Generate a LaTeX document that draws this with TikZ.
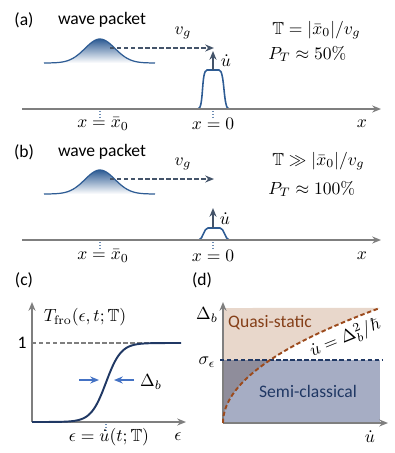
\documentclass[tikz,border=0pt]{standalone}
\usepackage{amssymb}
\usepackage[no-math]{fontspec}
\setmainfont{Carlito}
\usepackage{tikz}
\usetikzlibrary{arrows.meta}
\definecolor{axisgray}{HTML}{7F7F7F}
\definecolor{packetblue}{HTML}{2E5C94}
\definecolor{arrowslate}{HTML}{44546A}
\definecolor{curvenavy}{HTML}{203864}
\definecolor{markblue}{HTML}{4472C4}
\definecolor{peach}{HTML}{E8D7CB}
\definecolor{slateblue}{HTML}{A6ADC4}
\definecolor{overlap}{HTML}{8F8D9B}
\definecolor{rust}{HTML}{9C4A1C}

\begin{document}
\begin{tikzpicture}[
    x=0.02cm, y=-0.02cm,
    lbl/.style={inner sep=0pt, font=\normalsize},
    axis/.style={-{Stealth[length=5pt, width=4pt]}, color=axisgray, line width=0.8pt},
    flow/.style={-{Stealth[length=5pt, width=4pt]}, color=arrowslate, dash pattern=on 2.5pt off 1.5pt, line width=0.8pt},
    rate/.style={-{Stealth[length=5pt, width=4pt]}, color=arrowslate, line width=0.8pt},
    barrier/.style={color=packetblue, line width=0.9pt},
    tickmark/.style={densely dotted, color=packetblue!70, line width=0.6pt},
    narrow/.style={-{Stealth[length=5pt, width=4pt]}, color=markblue, line width=0.8pt}
]
    \useasboundingbox (0,0) rectangle (395,453);

    % (a) fast barrier
    \node[lbl] (a-tag) at (24,20) {(a)};
    \node[lbl] (a-packet) at (102,20) {wave packet};
    \node[lbl, anchor=west] (a-time) at (272,30) {$\mathbb{T}=|\bar{x}_0|/v_g$};
    \node[lbl, anchor=west] (a-prob) at (268,54) {$P_T\approx 50\%$};
    \shade[top color=packetblue, bottom color=white] (44,63)
        -- plot[domain=44:155, samples=60] (\x,{63-24*exp(-0.5*((\x-100)/15)*((\x-100)/15))}) -- cycle;
    \draw[barrier, line width=0.7pt] plot[domain=44:155, samples=60] (\x,{63-24*exp(-0.5*((\x-100)/15)*((\x-100)/15))});
    \coordinate (a-start) at (110,48);
    \coordinate (a-stop) at (214,48);
    \draw[flow] (a-start) -- (a-stop);
    \node[lbl] (a-vg) at (183,33) {$v_g$};
    \draw[barrier] (198,109) .. controls (204,109) and (201,70) .. (207,70) -- (219,70)
        .. controls (225,70) and (223,109) .. (229,109);
    \coordinate (a-top) at (213,70);
    \coordinate (a-tip) at (213,51);
    \draw[rate] (a-top) -- (a-tip);
    \node[lbl] (a-udot) at (226,61) {$\dot{u}$};
    \coordinate (a-left) at (22,109);
    \coordinate (a-right) at (381,109);
    \draw[axis] (a-left) -- (a-right);
    \draw[tickmark] (100,111) -- (100,119);
    \draw[tickmark] (213,111) -- (213,119);
    \node[lbl] (a-x0) at (103,124) {$x=\bar{x}_0$};
    \node[lbl] (a-xzero) at (213,124) {$x=0$};
    \node[lbl] (a-x) at (362,124) {$x$};

    % (b) slow barrier
    \node[lbl] (b-tag) at (24,152) {(b)};
    \node[lbl] (b-packet) at (102,152) {wave packet};
    \node[lbl, anchor=west] (b-time) at (272,161) {$\mathbb{T}\gg|\bar{x}_0|/v_g$};
    \node[lbl, anchor=west] (b-prob) at (268,189) {$P_T\approx 100\%$};
    \shade[top color=packetblue, bottom color=white] (44,194)
        -- plot[domain=44:155, samples=60] (\x,{194-24*exp(-0.5*((\x-100)/15)*((\x-100)/15))}) -- cycle;
    \draw[barrier, line width=0.7pt] plot[domain=44:155, samples=60] (\x,{194-24*exp(-0.5*((\x-100)/15)*((\x-100)/15))});
    \coordinate (b-start) at (110,179);
    \coordinate (b-stop) at (214,179);
    \draw[flow] (b-start) -- (b-stop);
    \node[lbl] (b-vg) at (183,164) {$v_g$};
    \draw[barrier] (199,240) .. controls (203,239) and (204,228) .. (208,228) -- (220,228)
        .. controls (224,228) and (225,239) .. (229,240);
    \coordinate (b-top) at (213,228);
    \coordinate (b-tip) at (213,208);
    \draw[rate] (b-top) -- (b-tip);
    \node[lbl] (b-udot) at (225,219) {$\dot{u}$};
    \coordinate (b-left) at (22,240);
    \coordinate (b-right) at (381,240);
    \draw[axis] (b-left) -- (b-right);
    \draw[tickmark] (100,242) -- (100,250);
    \draw[tickmark] (213,242) -- (213,250);
    \node[lbl] (b-x0) at (103,256) {$x=\bar{x}_0$};
    \node[lbl] (b-xzero) at (213,256) {$x=0$};
    \node[lbl] (b-x) at (362,256) {$x$};

    % (c) transmission step
    \node[lbl] (c-tag) at (24,280) {(c)};
    \coordinate (c-origin) at (32,422);
    \coordinate (c-ytop) at (32,302);
    \coordinate (c-xend) at (186,422);
    \coordinate (c-one) at (32,343);
    \coordinate (c-oneend) at (181,343);
    \draw[dash pattern=on 2.5pt off 1.5pt, color=axisgray, line width=0.7pt] (c-one) -- (c-oneend);
    \draw[axis] (c-origin) -- (c-ytop);
    \draw[axis] (c-origin) -- (c-xend);
    \draw[color=curvenavy, line width=1.1pt] plot[domain=32:181, samples=80] (\x,{422-79/(1+exp(min(9,-(\x-106)/7.5)))});
    \node[lbl] (c-trans) at (85,317) {$T_{\mathrm{fro}}(\epsilon,t;\mathbb{T})$};
    \node[lbl] (c-unit) at (22,343) {1};
    \coordinate (c-la) at (79,380);
    \coordinate (c-lb) at (99,380);
    \coordinate (c-ra) at (134,380);
    \coordinate (c-rb) at (114,380);
    \draw[narrow] (c-la) -- (c-lb);
    \draw[narrow] (c-ra) -- (c-rb);
    \node[lbl] (c-width) at (151,382) {$\Delta_b$};
    \draw[tickmark] (106,424) -- (106,431);
    \node[lbl] (c-eq) at (109,437) {$\epsilon=\dot{u}(t;\mathbb{T})$};
    \node[lbl] (c-eps) at (178,437) {$\epsilon$};

    % (d) regime map
    \node[lbl] (d-tag) at (202,280) {(d)};
    \fill[peach] (223,360) -- (270,360)
        -- plot[domain=6.86:12.53, samples=40] ({223+\x*\x},{423-9.18*\x}) -- (223,308) -- cycle;
    \fill[slateblue] (223,360) rectangle (380,423);
    \fill[overlap] (223,423) -- plot[domain=0:6.86, samples=40] ({223+\x*\x},{423-9.18*\x}) -- (223,360) -- cycle;
    \coordinate (d-origin) at (223,423);
    \coordinate (d-ytop) at (223,302);
    \coordinate (d-xend) at (388,423);
    \draw[axis] (d-origin) -- (d-ytop);
    \draw[axis] (d-origin) -- (d-xend);
    \coordinate (d-sl) at (220,360);
    \coordinate (d-sr) at (382,360);
    \draw[dash pattern=on 2.5pt off 1.5pt, color=curvenavy, line width=0.8pt] (d-sl) -- (d-sr);
    \draw[dash pattern=on 2.5pt off 1.5pt, color=rust, line width=1.1pt] plot[domain=0:12.53, samples=60] ({223+\x*\x},{423-9.18*\x});
    \node[lbl] (d-gap) at (207,315) {$\Delta_b$};
    \node[lbl] (d-sigma) at (207,362) {$\sigma_\epsilon$};
    \node[lbl] (d-udot) at (370,437) {$\dot{u}$};
    \node[lbl, color=rust!85!black] (d-quasi) at (270,323) {Quasi-static};
    \node[lbl, color=curvenavy] (d-semi) at (308,391) {Semi-classical};
    \node[lbl, rotate=22] (d-line) at (345,338) {$\dot{u}=\Delta_b^2/\hbar$};
\end{tikzpicture}
\end{document}
